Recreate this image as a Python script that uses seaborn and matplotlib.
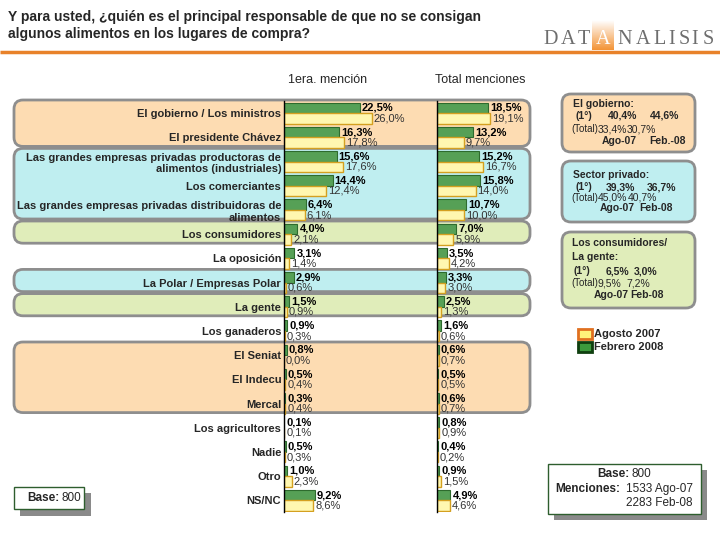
import numpy as np
import pandas as pd
import seaborn as sns
import matplotlib.pyplot as plt
from matplotlib.patches import FancyBboxPatch, Rectangle

# Datos (porcentajes)
categorias = [
    'El gobierno / Los ministros',
    'El presidente Chávez',
    'Las grandes empresas privadas productoras de\nalimentos (industriales)',
    'Los comerciantes',
    'Las grandes empresas privadas distribuidoras de\nalimentos',
    'Los consumidores',
    'La oposición',
    'La Polar / Empresas Polar',
    'La gente',
    'Los ganaderos',
    'El Seniat',
    'El Indecu',
    'Mercal',
    'Los agricultores',
    'Nadie',
    'Otro',
    'NS/NC',
]
periodos = ['Febrero 2008', 'Agosto 2007']

primera_feb = [22.5, 16.3, 15.6, 14.4, 6.4, 4.0, 3.1, 2.9, 1.5, 0.9, 0.8, 0.5, 0.3, 0.1, 0.5, 1.0, 9.2]
primera_ago = [26.0, 17.8, 17.6, 12.4, 6.1, 2.1, 1.4, 0.6, 0.9, 0.3, 0.0, 0.4, 0.4, 0.1, 0.3, 2.3, 8.6]
total_feb = [18.5, 13.2, 15.2, 15.8, 10.7, 7.0, 3.5, 3.3, 2.5, 1.6, 0.6, 0.5, 0.6, 0.8, 0.4, 0.9, 4.9]
total_ago = [19.1, 9.7, 16.7, 14.0, 10.0, 5.9, 4.2, 3.0, 1.3, 0.6, 0.7, 0.5, 0.7, 0.9, 0.2, 1.5, 4.6]

# grupos de fondo: (fila inicial, fila final, color)
grupos = [(0, 1, '#FDDCB2'), (2, 4, '#BFEEF0'), (5, 5, '#E0EDBA'),
          (7, 7, '#BFEEF0'), (8, 8, '#E0EDBA'), (10, 12, '#FDDCB2')]

verde = '#56A056'
amarillo = '#FFF7B0'

sns.set_style('white')
plt.rcParams['font.family'] = ['Liberation Sans', 'DejaVu Sans']
narrow = ['Liberation Sans Narrow', 'Liberation Sans']

fig = plt.figure(figsize=(7.2, 5.4), dpi=100)
bg = fig.add_axes([0, 0, 1, 1], zorder=0)
bg.axis('off')

TOP, ROW = 101, 24.2
n = len(categorias)


def fila(i):
    return TOP + ROW * i


def caja_px(x0, x1):
    return [x0 / 720, 1 - (TOP + ROW * n) / 540, (x1 - x0) / 720, ROW * n / 540]


# fondos redondeados
for s, e, c in grupos:
    bg.add_patch(FancyBboxPatch((14, fila(s) - 1), 516, fila(e + 1) - fila(s) - 2,
                                boxstyle='round,pad=0,rounding_size=9',
                                fc=c, ec='#8E8E8E', lw=2))


def fmt(v):
    return f'{v:.1f}%'.replace('.', ',')


def panel(ax, feb, ago, xmax, etiquetas):
    df = pd.DataFrame({
        'categoria': categorias * 2,
        'periodo': [periodos[0]] * n + [periodos[1]] * n,
        'valor': feb + ago,
    })
    sns.barplot(data=df, x='valor', y='categoria', hue='periodo', order=categorias,
                hue_order=periodos, palette=[verde, amarillo], saturation=1,
                width=0.86, orient='h', legend=False, errorbar=None, ax=ax)
    for p in ax.containers[0]:
        p.set_edgecolor('#2E6B2E')
        p.set_linewidth(0.8)
    for p in ax.containers[1]:
        p.set_edgecolor('#D4A020')
        p.set_linewidth(1.0)
    ax.bar_label(ax.containers[0], labels=[fmt(v) for v in feb], padding=1.5,
                 fontsize=8, fontweight='bold', color='black')
    ax.bar_label(ax.containers[1], labels=[fmt(v) for v in ago], padding=1.5,
                 fontsize=8, color='#333333')
    ax.set_xlim(0, xmax)
    ax.set_ylim(n - 0.5, -0.5)
    ax.set_facecolor('none')
    for s in ['top', 'right', 'bottom']:
        ax.spines[s].set_visible(False)
    ax.spines['left'].set_color('black')
    ax.spines['left'].set_linewidth(1)
    ax.set_xticks([])
    ax.set_xlabel('')
    ax.set_ylabel('')
    ax.set_yticks(np.arange(-0.5, n, 1), minor=True)
    ax.tick_params(axis='y', which='minor', length=5, width=1, color='black', direction='out')
    ax.tick_params(axis='y', which='major', length=0, pad=2, labelsize=8)
    if etiquetas:
        for t in ax.get_yticklabels():
            t.set_fontweight('bold')
    else:
        ax.set_yticklabels([])


ax1 = fig.add_axes(caja_px(284, 437), zorder=2)
ax2 = fig.add_axes(caja_px(437, 547), zorder=2)
panel(ax1, primera_feb, primera_ago, 153 / 3.37, True)
panel(ax2, total_feb, total_ago, 110 / 2.75, False)

# titulo y encabezados
bg.text(8, 17, 'Y para usted, ¿quién es el principal responsable de que no se consigan',
        fontsize=10, fontweight='bold', va='center', ha='left')
bg.text(8, 34, 'algunos alimentos en los lugares de compra?',
        fontsize=10, fontweight='bold', va='center', ha='left')
bg.plot([0, 720], [51.5, 51.5], color='#E8822A', lw=2.5, solid_capstyle='butt')
bg.text(328, 80, '1era. mención', fontsize=9, ha='center', va='center')
bg.text(480, 80, 'Total menciones', fontsize=9, ha='center', va='center')

# logo
grad = np.linspace(0, 1, 40)[:, None, None]
blanco = np.array([1, 1, 1])
naranja = np.array([243, 148, 55]) / 255
img = blanco * (1 - grad) + naranja * grad
bg.imshow(img, extent=(592, 614, 50, 20), aspect='auto', zorder=1)
letras = 'DATANALISIS'
xs = [551, 568, 584, 603, 625, 643, 660, 672, 684, 695, 708]
for i, (ch, x) in enumerate(zip(letras, xs)):
    bg.text(x, 40, ch, fontsize=14.5, family='Liberation Serif', ha='center', va='center',
            color='white' if i == 3 else '#6E6E6E', zorder=2)

# cajas de resumen a la derecha
resumen = [
    (94, 152, '#FDDCB2'),
    (161, 222, '#BFEEF0'),
    (232, 308, '#E0EDBA'),
]
for y0, y1, c in resumen:
    bg.add_patch(FancyBboxPatch((562, y0), 133, y1 - y0,
                                boxstyle='round,pad=0,rounding_size=9',
                                fc=c, ec='#8E8E8E', lw=2))

fs = 7.5
def t(x, y, s, ha='left', bold=True, size=fs):
    bg.text(x, y, s, fontsize=size, ha=ha, va='center', family=narrow,
            fontweight='bold' if bold else 'normal')

t(573, 104, 'El gobierno:')
t(575, 116, '(1°)')
t(637, 116, '40,4%', 'right')
t(679, 116, '44,6%', 'right')
t(571, 129, '(Total)', bold=False, size=7)
t(627, 129, '33,4%', 'right', False)
t(656, 129, '30,7%', 'right', False)
t(637, 141, 'Ago-07', 'right')
t(686, 141, 'Feb.-08', 'right')

t(573, 175, 'Sector privado:')
t(575, 187, '(1°)')
t(635, 187, '39,3%', 'right')
t(676, 187, '36,7%', 'right')
t(571, 198, '(Total)', bold=False, size=7)
t(627, 198, '45,0%', 'right', False)
t(657, 198, '40,7%', 'right', False)
t(635, 208, 'Ago-07', 'right')
t(673, 208, 'Feb-08', 'right')

t(572, 243, 'Los consumidores/')
t(572, 257, 'La gente:')
t(574, 271, '(1°)')
t(629, 271, '6,5%', 'right')
t(657, 271, '3,0%', 'right')
t(571, 283, '(Total)', bold=False, size=7)
t(621, 283, '9,5%', 'right', False)
t(650, 283, '7,2%', 'right', False)
t(629, 295, 'Ago-07', 'right')
t(664, 295, 'Feb-08', 'right')

# leyenda
bg.add_patch(Rectangle((578, 329), 14, 10, fc='#FFF27A', ec='#E07020', lw=2))
bg.add_patch(Rectangle((578, 342), 14, 10, fc='#3C9A3C', ec='#0F3F0F', lw=2))
bg.text(594, 334, 'Agosto 2007', fontsize=8, fontweight='bold', va='center')
bg.text(594, 347, 'Febrero 2008', fontsize=8, fontweight='bold', va='center')

# cajas de base
bg.add_patch(Rectangle((554, 470), 153, 50, fc='#8A8A8A', ec='none'))
bg.add_patch(Rectangle((548, 464), 153, 50, fc='white', ec='#2E5E2E', lw=1))
bg.text(630, 474, 'Base:', fontsize=8.5, fontweight='bold', ha='right', va='center')
bg.text(632, 474, '800', fontsize=8.5, ha='left', va='center')
bg.text(620, 489, 'Menciones:', fontsize=8.5, fontweight='bold', ha='right', va='center')
bg.text(693, 489, '1533 Ago-07', fontsize=8.5, ha='right', va='center')
bg.text(693, 503, '2283 Feb-08', fontsize=8.5, ha='right', va='center')

bg.add_patch(Rectangle((20, 493), 71, 23, fc='#8A8A8A', ec='none'))
bg.add_patch(Rectangle((14, 487), 70, 22, fc='white', ec='#2E5E2E', lw=1))
bg.text(59, 498, 'Base:', fontsize=8.5, fontweight='bold', ha='right', va='center')
bg.text(61, 498, '800', fontsize=8.5, ha='left', va='center')

bg.set_xlim(0, 720)
bg.set_ylim(540, 0)

fig.savefig('out.png', dpi=100)
